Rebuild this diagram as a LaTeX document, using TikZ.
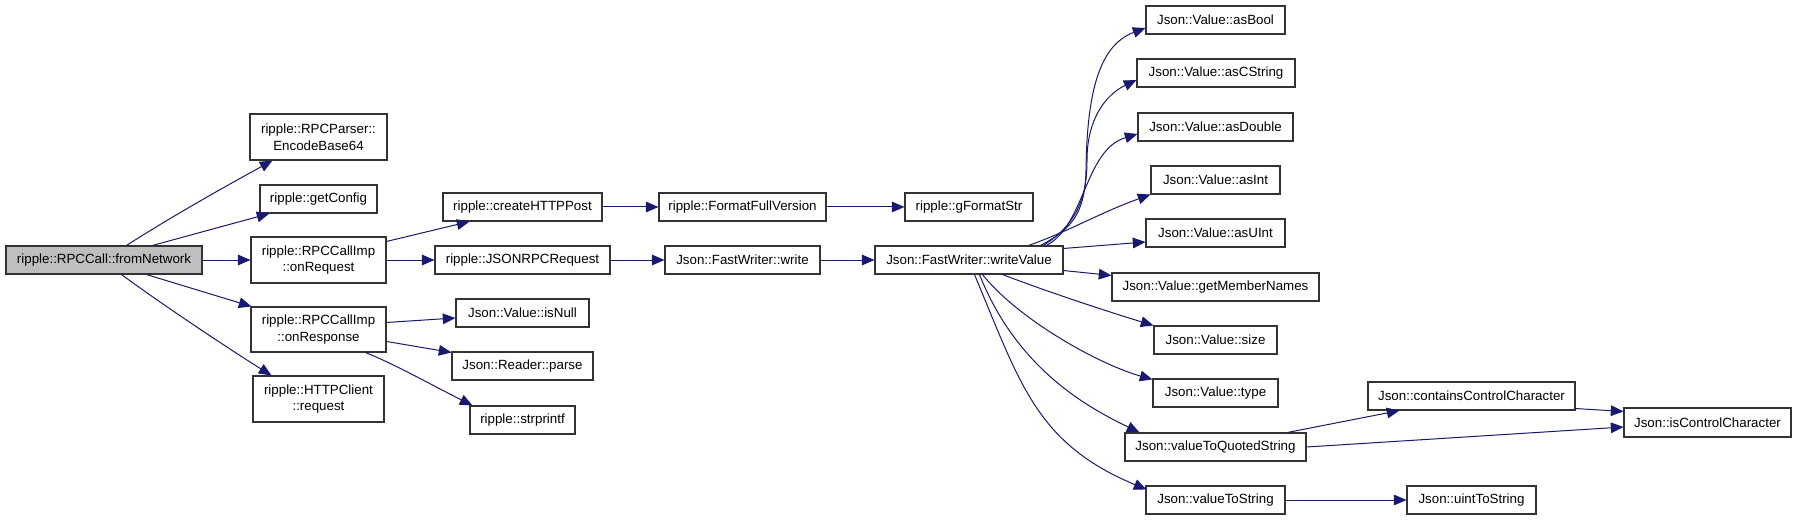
\documentclass[tikz,border=0pt]{standalone}
\usepackage{fontspec}
\setmainfont{Liberation Sans}
\usetikzlibrary{arrows.meta,calc}
\definecolor{edgeblue}{HTML}{191970}
\definecolor{hlgray}{HTML}{BFBFBF}
\definecolor{boxline}{HTML}{333333}
\tikzset{
  dbox/.style={draw=boxline, line width=0.8pt, fill=white, inner sep=1pt, align=center,
    font=\fontsize{10}{12.6}\selectfont},
  hl/.style={fill=hlgray},
  edge/.style={draw=edgeblue, line width=0.75pt, -{Triangle[length=9.5pt,width=8pt]}}
}
\newcommand\mkbox[7][]{\node[dbox,#1,minimum width={(#5-#3)*0.75pt},minimum height={(#6-#4)*0.75pt}] (#2) at ({(#3+#5)/2},{(#4+#6)/2}) {#7};}
\begin{document}
\begin{tikzpicture}[x=0.75pt,y=-0.75pt]
\useasboundingbox (0,0) rectangle (1797,520);
\fill[white] (0,0) rectangle (1797,520);
% nodes
\mkbox[hl]{fn}{6}{246}{202}{274}{ripple::RPCCall::fromNetwork}
\mkbox{enc}{250}{114}{387}{160}{ripple::RPCParser::\\EncodeBase64}
\mkbox{cfg}{260}{185}{377}{213}{ripple::getConfig}
\mkbox{onreq}{251}{237}{386}{283}{ripple::RPCCallImp\\::onRequest}
\mkbox{onresp}{251}{307}{386}{352}{ripple::RPCCallImp\\::onResponse}
\mkbox{http}{253}{376}{384}{422}{ripple::HTTPClient\\::request}
\mkbox{chp}{443}{193}{602}{221}{ripple::createHTTPPost}
\mkbox{ffv}{659}{193}{826}{221}{ripple::FormatFullVersion}
\mkbox{jrr}{435}{246}{610}{274}{ripple::JSONRPCRequest}
\mkbox{fww}{665}{246}{820}{274}{Json::FastWriter::write}
\mkbox{isnull}{456}{299}{589}{327}{Json::Value::isNull}
\mkbox{parse}{452}{352}{593}{380}{Json::Reader::parse}
\mkbox{strp}{470}{406}{575}{434}{ripple::strprintf}
\mkbox{gfs}{905}{193}{1033}{221}{ripple::gFormatStr}
\mkbox{wv}{875}{246}{1063}{274}{Json::FastWriter::writeValue}
\mkbox{asBool}{1146}{6}{1285}{34}{Json::Value::asBool}
\mkbox{asCString}{1137}{59}{1295}{87}{Json::Value::asCString}
\mkbox{asDouble}{1138}{113}{1293}{141}{Json::Value::asDouble}
\mkbox{asInt}{1151}{166}{1280}{194}{Json::Value::asInt}
\mkbox{asUInt}{1146}{219}{1285}{247}{Json::Value::asUInt}
\mkbox{gmn}{1112}{273}{1319}{301}{Json::Value::getMemberNames}
\mkbox{size}{1154}{326}{1277}{354}{Json::Value::size}
\mkbox{type}{1153}{379}{1278}{407}{Json::Value::type}
\mkbox{vtqs}{1125}{433}{1306}{461}{Json::valueToQuotedString}
\mkbox{vts}{1146}{486}{1285}{514}{Json::valueToString}
\mkbox{ccc}{1368}{382}{1575}{410}{Json::containsControlCharacter}
\mkbox{icc}{1624}{408}{1791}{437}{Json::isControlCharacter}
\mkbox{uts}{1407}{486}{1536}{514}{Json::uintToString}
% edges from fromNetwork
\draw[edge] ($(fn.north west)+(121,0)$) .. controls +(50,-32) and +(-40,22) .. ($(enc.south west)+(23,0)$);
\draw[edge] ($(fn.north west)+(147,0)$) -- ($(cfg.south west)+(10,0)$);
\draw[edge] (fn.east) -- (onreq.west);
\draw[edge] ($(fn.south west)+(141,0)$) -- ($(onresp.north west)+(1,0)$);
\draw[edge] ($(fn.south west)+(116,0)$) .. controls +(45,33) and +(-40,-25) .. ($(http.north west)+(19,0)$);
% onRequest
\draw[edge] ($(onreq.north east)+(0,5)$) -- ($(chp.south west)+(27,0)$);
\draw[edge] (onreq.east) -- (jrr.west);
% onResponse
\draw[edge] ($(onresp.north east)+(0,16)$) -- ($(isnull.west)+(0,5)$);
\draw[edge] ($(onresp.north east)+(0,35)$) -- ($(parse.north west)+(0,1)$);
\draw[edge] ($(onresp.south east)+(-21,0)$) .. controls +(30,12) and +(-40,-20) .. ($(strp.north west)+(3,0)$);
% chains
\draw[edge] (chp.east) -- (ffv.west);
\draw[edge] (ffv.east) -- (gfs.west);
\draw[edge] (jrr.east) -- (fww.west);
\draw[edge] (fww.east) -- (wv.west);
% writeValue fan-out
\draw[edge] ($(wv.north east)+(-23,0)$) .. controls +(30,-16) and (1085,215) .. (1086,170)
   .. controls (1087,90) and (1100,45) .. ($(asBool.west)+(0,8)$);
\draw[edge] ($(wv.north east)+(-20,0)$) .. controls +(32,-21) and (1087,200) .. (1087,160)
   .. controls (1087,120) and (1105,95) .. ($(asCString.west)+(0,7)$);
\draw[edge] ($(wv.north east)+(-17,0)$) .. controls +(39,-21) and +(-53,16) .. ($(asDouble.west)+(0,7)$);
\draw[edge] ($(wv.north east)+(-35,0)$) .. controls +(40,-14) and +(-50,18) .. (asInt.south west);
\draw[edge] ($(wv.north east)+(0,3)$) -- ($(asUInt.west)+(0,9)$);
\draw[edge] ($(wv.south east)+(0,-4)$) -- ($(gmn.north west)+(0,3)$);
\draw[edge] ($(wv.south west)+(128,0)$) .. controls +(47,18) and +(-43,-13) .. (size.north west);
\draw[edge] ($(wv.south west)+(108,0)$) .. controls +(37,46) and +(-53,-15) .. ($(type.north west)+(0,1)$);
\draw[edge] ($(wv.south west)+(105,0)$) .. controls +(37,93) and +(-54,-26) .. ($(vtqs.north west)+(15,0)$);
\draw[edge] ($(wv.south west)+(100,0)$) .. controls +(46,110) and +(-110,-46) .. ($(vts.north west)+(1,4)$);
% quoted string etc
\draw[edge] ($(vtqs.north east)+(-19,0)$) -- ($(ccc.south west)+(32,0)$);
\draw[edge] (vtqs.east) -- ($(icc.west)+(0,4.5)$);
\draw[edge] ($(ccc.south east)+(0,-2)$) -- ($(icc.north west)+(0,4)$);
\draw[edge] (vts.east) -- (uts.west);
\end{tikzpicture}
\end{document}
